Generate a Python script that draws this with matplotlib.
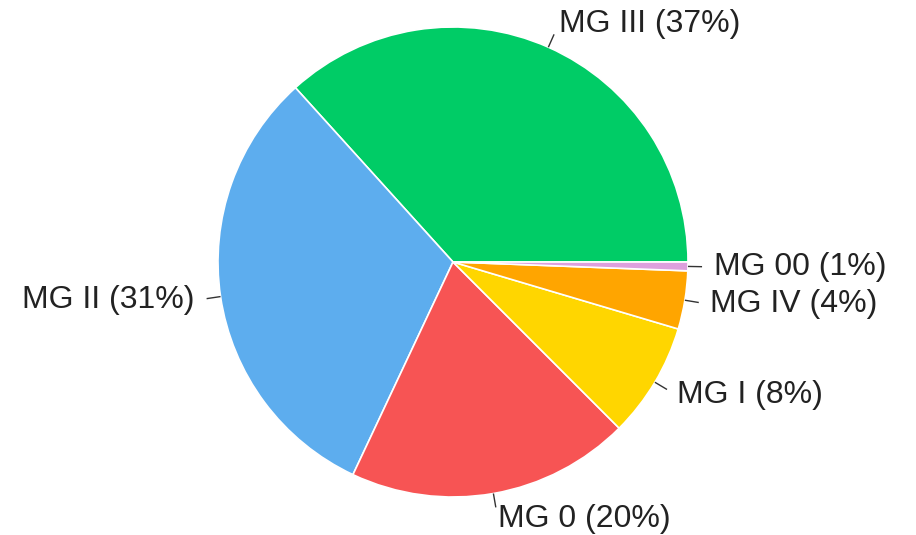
import numpy as np
import matplotlib
matplotlib.use("Agg")
import matplotlib.pyplot as plt

labels = ["MG III (37%)", "MG II (31%)", "MG 0 (20%)", "MG I (8%)", "MG IV (4%)", "MG 00 (1%)"]
values = [36.7, 31.3, 19.5, 7.9, 4.0, 0.6]
colors = ["#00CC66", "#5DADEE", "#F75454", "#FFD600", "#FFA500", "#DDA0DD"]

W, H = 916, 535
cx, cy, R = 453, 262, 235

fig = plt.figure(figsize=(W / 100, H / 100), dpi=100)
ax = fig.add_axes([0, 0, 1, 1])
wedges, texts = ax.pie(values, labels=labels, colors=colors, startangle=0,
                       counterclock=True, radius=1.0, labeldistance=1.11,
                       wedgeprops=dict(edgecolor="white", linewidth=1.2),
                       textprops=dict(fontsize=23, family="Liberation Sans", color="#222222"))
for w in wedges:
    ang = np.deg2rad((w.theta1 + w.theta2) / 2)
    ax.plot([np.cos(ang) * 1.0, np.cos(ang) * 1.06], [np.sin(ang) * 1.0, np.sin(ang) * 1.06],
            color="#333333", lw=1.0, solid_capstyle="butt")
ax.set_xlim(-cx / R, (W - cx) / R)
ax.set_ylim(-(H - cy) / R, cy / R)
ax.set_aspect("equal")
ax.axis("off")
fig.savefig("out.png", dpi=100, facecolor="white")
